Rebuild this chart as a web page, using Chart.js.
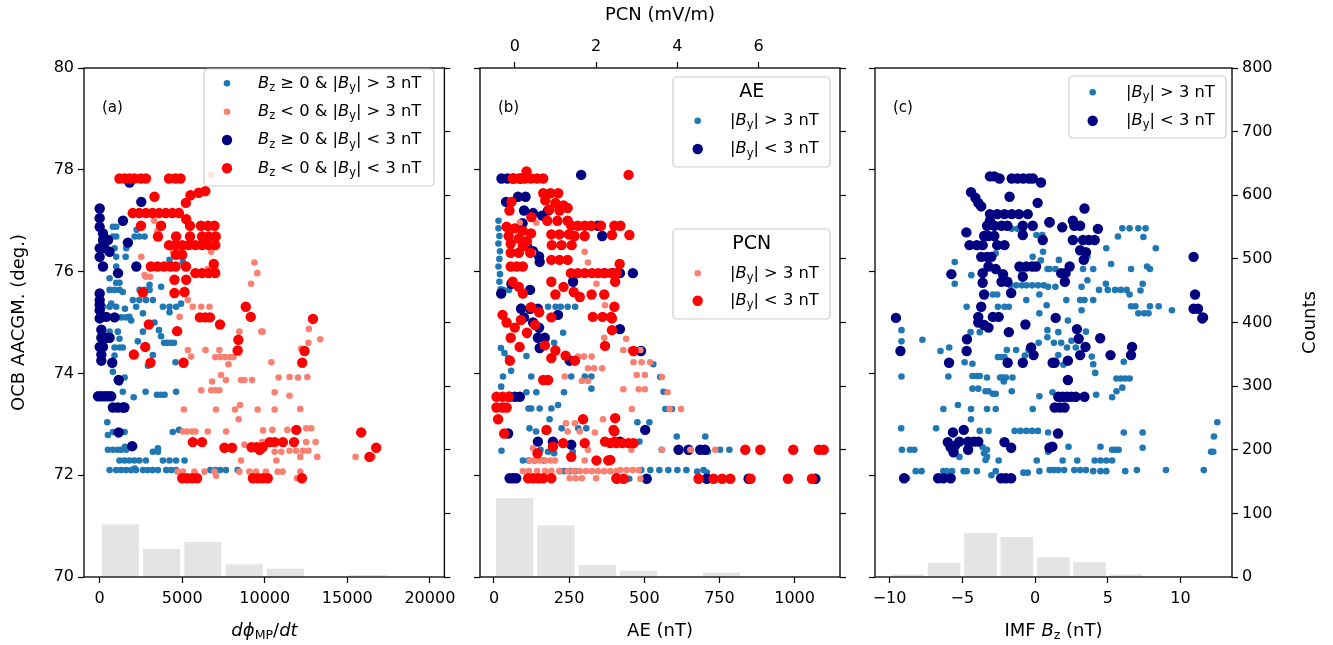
<!DOCTYPE html>
<html lang="en">
<head>
<meta charset="UTF-8">
<title>OCB latitude vs driving</title>
<script src="https://cdn.jsdelivr.net/npm/chart.js"></script>
<style>
  body { margin: 0; background: #fff; }
  #wrap { position: relative; width: 1333px; height: 645px; }
  #wrap canvas { position: absolute; top: 0; }
</style>
</head>
<body>
<div id="wrap">
  <canvas id="chartA" width="462" height="645" style="left:0px"></canvas>
  <canvas id="chartB" width="396" height="645" style="left:462px"></canvas>
  <canvas id="chartC" width="475" height="645" style="left:858px"></canvas>
</div>
<script>
// ---------- data ----------
const latTicks = [70, 72, 74, 76, 78, 80];
const countTicks = [0, 100, 200, 300, 400, 500, 600, 700, 800];
const aXTicks = [0, 5000, 10000, 15000, 20000];
const bXTicks = [0, 250, 500, 750, 1000];
const bPcnTicks = [0, 2, 4, 6];
const cXTicks = [-10, -5, 0, 5, 10];

// (a) dphi/dt vs OCB latitude
const aBzPosByHigh = [[800,76.88],[1000,76.88],[800,76.69],[1000,76.69],[2120,76.69],[2400,76.69],[2720,76.69],[2240,76.82],[1610,76.46],[900,76.46],[1570,76.29],[1000,76.29],[5040,76.39],[5040,76.19],[4230,76.23],[1000,76.1],[600,75.87],[1000,75.78],[1200,75.78],[600,75.64],[900,75.64],[1200,75.64],[1400,75.6],[3020,75.74],[2420,75.64],[2720,75.64],[3020,75.64],[3720,75.7],[2010,75.44],[2400,75.44],[2800,75.44],[3220,75.44],[700,75.37],[200,75.31],[600,75.31],[1000,75.31],[1530,75.27],[2210,75.31],[3830,75.31],[4230,75.31],[4630,75.31],[4230,75.2],[4930,75.37],[2620,75.18],[1800,75.11],[1000,75.1],[1300,75.1],[1600,75.1],[1910,75.04],[3320,75.0],[3590,74.85],[2620,74.82],[600,74.82],[1100,74.82],[1200,74.68],[2310,74.63],[3720,74.73],[3900,74.6],[4100,74.6],[4300,74.6],[4500,74.6],[900,74.51],[1200,74.51],[1400,74.51],[900,74.35],[3220,74.36],[2920,74.15],[4590,74.22],[800,74.03],[1510,73.92],[1200,73.82],[1400,73.64],[2060,73.53],[2780,73.64],[3470,73.58],[3700,73.58],[3930,73.58],[4630,73.64],[460,73.04],[500,72.79],[800,72.85],[1100,72.85],[1510,72.85],[4430,72.85],[4810,72.89],[500,72.5],[800,72.5],[1100,72.5],[1300,72.5],[1600,72.5],[1530,72.56],[3220,72.46],[3530,72.46],[3530,72.53],[1200,72.29],[1500,72.29],[1800,72.29],[2100,72.29],[2400,72.29],[2800,72.29],[3830,72.29],[4230,72.29],[4630,72.29],[5140,72.29],[600,72.1],[1000,72.1],[1300,72.1],[1600,72.1],[1900,72.1],[2200,72.1],[2620,72.1],[2900,72.1],[3200,72.1],[3530,72.1],[4030,72.1],[4330,72.1],[4630,72.1],[6700,72.1],[7000,72.1],[7300,72.1],[7650,72.1],[8360,72.1],[2120,72.13]];
const aBzNegByHigh = [[6740,77.9],[2520,76.29],[4430,76.39],[4740,76.39],[5040,76.39],[6750,76.39],[9370,76.18],[9550,75.97],[9170,75.76],[2720,75.93],[6550,76.05],[7030,76.05],[5340,75.44],[5640,75.31],[6150,75.31],[6650,75.31],[4840,75.11],[2800,75.9],[3050,75.9],[3300,77.0],[3500,76.8],[8460,74.82],[9870,74.82],[5340,74.46],[5540,74.33],[6410,74.46],[7250,74.46],[7000,74.32],[7300,74.32],[7600,74.32],[7900,74.32],[8100,74.32],[7800,74.18],[7350,73.97],[7650,73.87],[8560,73.87],[8770,73.87],[9230,73.87],[6810,73.84],[6150,73.67],[6750,73.67],[7000,73.67],[7250,73.67],[5100,73.29],[7050,73.29],[8200,73.29],[8500,73.38],[8420,73.1],[9570,73.29],[5040,72.86],[5300,72.86],[5600,72.86],[5800,72.86],[6550,72.86],[7660,72.86],[9900,72.88],[8770,72.6],[9900,72.65],[8560,72.29],[4730,72.07],[5040,72.07],[5740,72.07],[6350,72.07],[6950,72.07],[8460,72.07],[9070,72.07],[9470,72.07],[10070,72.07],[7050,71.99],[9790,74.82],[12670,74.87],[13360,74.67],[12640,74.6],[12210,74.49],[10400,74.22],[10840,73.92],[11500,73.93],[12010,73.92],[12580,73.93],[10600,73.63],[11500,73.56],[10600,73.29],[12150,73.3],[10460,72.89],[11370,72.89],[12510,72.92],[12820,72.92],[9830,72.65],[12510,72.65],[13080,72.65],[10600,72.46],[11000,72.46],[11500,72.48],[11900,72.48],[12310,72.48],[12640,72.48],[10700,72.29],[12150,72.36],[13180,72.36],[15500,72.36],[10780,72.07],[11080,72.07],[12150,72.07],[11950,71.94],[16530,72.36]];
const aBzPosByLow = [[0,77.24],[0,77.05],[0,76.88],[200,76.75],[200,76.62],[500,76.62],[0,76.46],[300,76.46],[600,76.39],[0,76.29],[200,76.1],[1110,75.97],[2520,77.37],[1410,77.0],[1710,76.57],[1810,77.75],[2220,76.1],[0,75.57],[0,75.44],[0,75.35],[0,75.24],[100,75.11],[400,75.11],[900,75.1],[0,75.08],[100,74.86],[100,74.7],[400,74.7],[600,74.7],[0,74.52],[200,74.52],[100,74.37],[100,74.25],[760,74.21],[1150,73.87],[-100,73.55],[100,73.55],[300,73.55],[500,73.55],[700,73.55],[800,73.33],[1100,73.33],[1400,73.33],[1500,73.33],[1150,72.84],[1970,72.57]];
const aBzNegByLow = [[1200,77.83],[1500,77.83],[1800,77.83],[2100,77.83],[2500,77.83],[2800,77.83],[4200,77.83],[4600,77.83],[4900,77.83],[5500,77.5],[6000,77.55],[6400,77.58],[3320,77.47],[5220,77.35],[2000,77.15],[2400,77.15],[2800,77.15],[3200,77.15],[3600,77.15],[4000,77.15],[4400,77.15],[4800,77.15],[5240,77.03],[2500,76.9],[3720,76.9],[5470,76.9],[6130,76.9],[6560,76.9],[6950,76.9],[3530,76.69],[4630,76.69],[5470,76.69],[6200,76.69],[6600,76.69],[7030,76.69],[4200,76.52],[4600,76.52],[5000,76.52],[5400,76.52],[5800,76.52],[6200,76.52],[6600,76.52],[7000,76.52],[4620,76.33],[5000,76.33],[3100,76.1],[3500,76.1],[3900,76.1],[4300,76.1],[4600,76.1],[5230,76.1],[5800,75.97],[6200,75.97],[6600,75.97],[7000,75.97],[6910,76.15],[4530,75.84],[5240,75.84],[2620,75.59],[4530,75.58],[5140,75.6],[8850,75.31],[6070,75.1],[6400,75.1],[6680,75.1],[9150,75.11],[2980,74.96],[4690,74.83],[7290,74.96],[2760,74.52],[2070,74.37],[3080,74.21],[5080,74.21],[8400,74.66],[8360,74.45],[5640,72.65],[6200,72.65],[7560,72.54],[8020,72.54],[9200,72.55],[9500,72.55],[9870,72.55],[9690,72.5],[10300,72.65],[10600,72.65],[11100,72.65],[11770,72.65],[11910,72.89],[5000,71.94],[5300,71.94],[5600,71.94],[5900,71.94],[9280,71.94],[9600,71.94],[9900,71.94],[10180,71.94],[12250,71.94],[12920,75.07],[12410,74.44],[12270,74.21],[15840,72.84],[16750,72.54],[16340,72.36]];
const aHistCenters = [1250, 3750, 6250, 8750, 11250, 16250];
const aHistCounts = [83, 44, 55, 20, 13, 3];

// (b) AE and PCN vs OCB latitude
const bAeByHigh = [[15,77.0],[15,76.85],[18,76.7],[15,76.55],[20,76.4],[18,76.25],[15,76.1],[20,75.95],[18,75.8],[22,75.65],[30,75.64],[50,75.64],[245,75.31],[270,75.31],[180,75.31],[205,75.31],[222,75.31],[90,75.31],[23,74.5],[35,74.4],[47,74.3],[30,73.94],[24,73.74],[57,74.05],[108,74.34],[124,73.94],[108,73.63],[141,73.63],[115,73.31],[124,73.31],[152,73.31],[191,73.31],[213,73.38],[233,73.63],[257,73.94],[302,73.94],[324,73.94],[324,73.7],[185,73.1],[118,72.92],[140,72.86],[170,72.86],[25,72.48],[96,72.29],[115,72.29],[135,72.29],[165,72.29],[155,72.5],[180,72.46],[200,72.43],[225,72.92],[280,72.92],[307,72.92],[262,72.46],[219,72.08],[235,72.08],[252,72.08],[269,72.08],[110,74.75],[150,74.85],[200,74.6],[230,74.8],[530,74.18],[553,73.93],[564,73.64],[570,73.3],[592,73.3],[477,73.04],[517,73.04],[484,72.66],[608,72.76],[703,72.76],[558,72.5],[712,72.46],[752,72.5],[783,72.5],[490,72.1],[520,72.1],[550,72.1],[580,72.1],[610,72.1],[640,72.1],[676,72.07],[697,72.1],[708,72.05],[450,71.93]];
const bAeByLow = [[25,77.83],[45,77.83],[65,77.83],[90,77.83],[290,77.9],[80,77.47],[105,77.47],[40,77.37],[100,77.2],[130,77.15],[160,77.1],[180,77.2],[95,76.95],[346,76.9],[360,76.7],[110,76.5],[130,76.4],[150,76.3],[152,76.19],[58,75.76],[24,75.57],[263,75.8],[368,75.97],[396,75.97],[213,75.15],[120,75.64],[90,75.27],[120,75.27],[146,75.27],[419,75.97],[462,75.97],[100,75.1],[130,75.0],[150,74.9],[146,74.7],[169,74.7],[152,74.5],[252,74.25],[52,73.54],[70,73.54],[86,73.54],[47,72.82],[146,72.66],[196,72.66],[257,72.6],[52,71.94],[63,71.94],[74,71.94],[419,74.87],[489,74.44],[503,72.89],[419,72.66],[614,72.5],[647,72.5],[686,72.5],[702,72.5],[508,71.93],[708,71.93],[847,71.93],[1069,71.93]];
const bPcnByHigh = [[0.12,76.96],[0.53,76.96],[0.45,76.37],[1.72,76.39],[1.8,76.18],[2.01,75.76],[2.22,75.34],[1.56,74.33],[1.7,74.33],[1.89,74.33],[1.8,74.1],[1.95,74.1],[2.15,74.1],[1.23,73.94],[1.65,73.85],[1.8,73.85],[2.2,74.7],[1.26,73.02],[1.48,73.02],[1.97,72.84],[2.17,73.1],[1.3,72.86],[1.6,72.86],[0.45,72.53],[0.37,72.29],[0.5,72.29],[0.62,72.29],[0.75,72.29],[0.88,72.29],[0.99,72.29],[1.72,72.29],[1.8,72.5],[0.2,72.08],[0.35,72.08],[0.55,72.08],[0.75,72.08],[0.9,72.08],[1.1,72.08],[1.3,72.08],[1.45,72.08],[1.6,72.08],[1.75,72.08],[1.9,72.08],[2.05,72.08],[2.2,72.08],[2.35,72.08],[2.5,72.08],[2.6,72.1],[2.75,72.1],[2.9,72.1],[3.05,72.1],[1.35,71.94],[1.5,71.94],[1.65,71.94],[2.0,71.94],[2.74,74.68],[2.67,74.46],[2.85,74.46],[3.09,74.46],[2.92,74.22],[3.12,74.22],[3.33,74.22],[3.0,73.97],[3.2,73.97],[3.62,73.93],[2.67,73.69],[3.05,73.69],[3.2,73.69],[3.76,73.63],[2.88,73.3],[3.81,73.3],[4.09,73.3],[4.32,72.5],[4.93,72.5],[3.62,72.5],[3.09,71.93],[2.87,72.5]];
const bPcnByLow = [[-0.05,77.83],[0.1,77.83],[0.25,77.83],[0.4,77.83],[0.55,77.83],[0.7,77.83],[0.29,77.97],[0.7,77.54],[0.88,77.54],[1.07,77.54],[0.75,77.4],[1.0,77.35],[1.2,77.3],[0.85,77.22],[1.1,77.2],[1.3,77.25],[-0.08,77.37],[-0.13,77.2],[0.41,77.07],[0.8,77.0],[1.05,77.0],[1.3,77.0],[-0.2,76.88],[0.0,76.85],[0.2,76.8],[0.4,76.75],[-0.15,76.7],[0.1,76.65],[0.3,76.6],[-0.1,76.55],[0.2,76.5],[1.39,76.9],[1.55,76.9],[1.72,76.9],[1.88,76.9],[2.12,76.9],[2.45,76.9],[2.6,76.9],[2.82,76.72],[2.39,76.72],[1.47,76.7],[1.72,76.7],[0.9,76.73],[1.1,76.73],[1.33,76.73],[-0.1,76.37],[0.1,76.37],[0.38,76.37],[0.91,76.52],[1.15,76.52],[1.4,76.52],[0.9,76.23],[1.1,76.23],[1.3,76.23],[-0.1,76.1],[0.05,76.1],[0.2,76.1],[1.38,75.97],[1.55,75.97],[1.72,75.97],[1.9,75.97],[2.05,75.97],[2.2,75.97],[2.37,75.97],[2.5,75.97],[2.58,76.15],[0.9,75.8],[1.2,75.7],[1.45,75.6],[1.6,75.5],[1.0,75.55],[-0.05,75.8],[0.1,75.7],[0.2,75.57],[1.89,75.55],[2.2,75.55],[1.92,75.11],[2.16,75.11],[2.37,75.11],[-0.3,75.15],[0.4,75.3],[0.6,75.2],[0.9,75.1],[2.8,77.9],[2.45,75.31],[2.47,75.8],[-0.2,75.0],[0.0,74.9],[0.3,74.8],[-0.1,74.7],[0.15,75.05],[0.5,74.95],[0.74,74.55],[1.0,74.45],[1.25,74.35],[1.48,74.25],[0.9,74.3],[-0.12,74.25],[0.12,74.52],[2.22,74.54],[0.7,73.87],[0.82,73.87],[-0.45,73.54],[-0.3,73.54],[-0.15,73.54],[-0.45,73.33],[-0.3,73.33],[-0.2,73.33],[-0.41,73.1],[-0.26,72.82],[0.78,72.89],[1.68,73.1],[1.19,72.63],[0.94,72.56],[0.56,72.43],[1.39,72.36],[1.72,72.63],[2.01,72.29],[2.3,72.29],[2.22,72.66],[2.46,72.66],[2.45,72.86],[0.33,71.94],[0.45,71.94],[0.58,71.94],[0.7,71.94],[0.9,71.94],[2.5,71.94],[2.39,75.08],[2.39,74.85],[2.92,74.44],[2.47,73.12],[2.43,72.89],[2.35,72.63],[2.5,72.63],[2.65,72.63],[2.8,72.63],[2.92,72.63],[2.35,72.3],[2.51,71.93],[2.68,71.93],[5.67,72.5],[6.04,72.5],[6.85,72.5],[7.48,72.5],[7.6,72.5],[4.52,71.93],[4.89,71.93],[5.1,71.93],[5.3,71.93],[5.8,71.93],[6.72,71.93],[7.31,71.93]];
const bHistCenters = [68.75, 206.25, 343.75, 481.25, 756.25];
const bHistCounts = [124, 81, 19, 10, 7];

// (c) IMF Bz vs OCB latitude
const cByHigh = [[-5.52,76.19],[-5.52,75.76],[-4.38,75.93],[-4.7,75.31],[-2.55,75.31],[-2.1,75.31],[-1.8,75.31],[-2.9,75.55],[-2.6,75.55],[-2.7,76.36],[-1.6,76.84],[-1.2,76.84],[-0.8,76.84],[0.1,76.72],[0.5,76.72],[0.55,76.39],[-1.7,75.73],[-1.3,75.73],[-0.9,75.73],[-0.6,75.73],[-0.2,75.73],[0.2,75.73],[0.6,75.73],[-0.9,75.97],[-0.16,76.29],[0.4,76.22],[0.86,76.05],[-0.6,75.44],[0.3,75.55],[0.8,75.34],[0.3,75.18],[6.0,76.85],[6.5,76.85],[7.1,76.85],[7.6,76.85],[5.7,76.69],[7.45,76.68],[8.3,76.46],[4.9,76.46],[3.6,76.29],[5.23,76.15],[6.6,76.05],[7.7,76.1],[7.9,76.05],[3.3,76.05],[4.0,76.05],[1.64,76.23],[1.0,76.05],[1.4,76.05],[4.87,75.76],[7.4,75.76],[3.6,75.83],[4.4,75.64],[5.0,75.64],[5.5,75.64],[5.9,75.64],[6.3,75.64],[6.5,75.55],[7.25,75.63],[3.2,75.7],[0.9,75.7],[1.4,75.7],[2.15,75.44],[3.1,75.44],[3.4,75.44],[4.0,75.44],[6.6,75.32],[6.9,75.32],[7.9,75.32],[8.5,75.32],[9.41,75.24],[7.1,75.18],[7.5,75.18],[7.8,75.18],[3.2,75.24],[-9.18,74.85],[-9.18,74.63],[-7.74,74.66],[-6.5,74.44],[-5.9,74.51],[-9.18,73.94],[-5.96,73.94],[-4.84,74.22],[-4.3,74.19],[-4.43,74.81],[-3.8,74.81],[-4.3,73.95],[-4.0,73.95],[-3.8,73.95],[-3.3,73.92],[-4.3,73.7],[-3.9,73.7],[-3.4,73.65],[-3.2,73.65],[-2.9,73.6],[-2.7,73.6],[-2.4,73.92],[-2.2,73.92],[-2.0,73.92],[-2.15,73.84],[-1.55,73.92],[-1.6,73.65],[-2.55,74.32],[-2.3,74.32],[-2.1,74.32],[-1.94,74.46],[-1.3,74.46],[-0.7,74.35],[-0.45,74.46],[0.25,74.6],[0.85,74.85],[0.85,74.71],[-6.3,73.3],[-5.3,73.38],[-4.4,73.3],[-3.3,73.3],[-2.7,73.3],[-4.4,73.1],[-0.16,73.3],[0.3,73.55],[-9.2,72.92],[-6.8,72.92],[-3.8,72.87],[-3.2,72.87],[-1.4,72.87],[-1.0,72.87],[-0.6,72.87],[-0.2,72.87],[0.2,72.87],[0.9,72.84],[-9.15,72.5],[-8.6,72.5],[-8.3,72.5],[-3.6,72.55],[-3.3,72.5],[-3.5,72.43],[-3.3,72.36],[-3.4,72.3],[-5.2,72.36],[-2.5,72.29],[0.12,72.29],[0.9,72.46],[-8.2,72.08],[-7.8,72.08],[-6.3,72.08],[-6.1,72.08],[-5.7,72.08],[-4.9,72.08],[-4.7,72.08],[-4.0,72.08],[-3.0,72.0],[-2.7,72.08],[-0.8,72.05],[-0.5,72.05],[0.3,72.08],[1.0,72.1],[-8.8,71.94],[2.26,75.04],[1.6,74.81],[1.3,74.6],[1.8,74.6],[2.5,74.64],[2.8,74.51],[2.2,74.51],[3.5,74.82],[1.6,74.36],[1.95,74.17],[3.9,74.33],[4.0,74.18],[4.14,74.01],[6.1,74.23],[5.6,73.9],[5.9,73.9],[6.2,73.9],[6.5,73.9],[6.0,73.72],[5.6,73.65],[5.3,73.53],[4.2,73.58],[1.2,73.63],[12.53,73.04],[12.3,72.76],[12.1,72.46],[12.25,72.46],[6.1,72.84],[7.4,72.84],[7.4,72.54],[4.5,72.56],[2.3,72.56],[5.3,72.5],[5.5,72.5],[5.75,72.5],[1.9,72.29],[2.9,72.29],[4.1,72.29],[4.5,72.29],[4.9,72.29],[5.3,72.29],[1.3,72.1],[1.6,72.1],[2.0,72.1],[2.7,72.1],[3.1,72.1],[3.5,72.1],[4.0,72.08],[4.5,72.08],[4.9,72.08],[6.2,72.08],[7.0,72.1],[9.0,72.1],[11.6,72.1]];
const cByLow = [[-3.1,77.87],[-2.8,77.87],[-2.44,77.83],[-1.6,77.83],[-1.2,77.83],[-0.8,77.83],[-0.4,77.83],[-0.15,77.83],[0.41,77.75],[-4.4,77.56],[-4.1,77.45],[-3.9,77.35],[-3.7,77.28],[-1.75,77.47],[0.18,77.35],[-3.1,77.13],[-2.6,77.13],[-2.1,77.13],[-1.6,77.13],[-1.1,77.13],[-0.5,77.13],[-3.1,77.0],[-3.3,76.9],[-2.8,76.9],[-2.3,76.9],[-1.9,76.9],[-0.84,76.9],[-0.16,76.9],[0.99,76.97],[0.53,76.62],[-4.72,76.77],[-3.5,76.7],[-3.2,76.7],[-2.8,76.7],[-0.84,76.72],[-4.5,76.52],[-4.0,76.52],[-3.6,76.52],[-2.6,76.52],[-2.1,76.52],[-3.7,76.29],[-3.3,76.29],[-3.0,76.29],[-3.2,76.1],[-2.7,76.05],[-2.2,75.95],[-1.07,76.1],[-0.6,76.1],[-0.2,76.1],[0.07,76.1],[-5.75,75.95],[-3.6,75.97],[-0.84,75.9],[-2.3,75.8],[-1.9,75.8],[-3.6,75.78],[-3.5,75.55],[-1.64,75.58],[-3.7,75.31],[-9.56,75.09],[-3.9,75.11],[-2.9,75.11],[-2.5,75.11],[3.4,77.24],[2.6,77.0],[2.7,76.9],[3.1,76.9],[1.87,76.87],[4.32,76.84],[2.6,76.62],[3.3,76.62],[3.7,76.62],[4.1,76.62],[3.1,76.42],[3.5,76.38],[3.35,76.23],[2.38,76.1],[1.8,75.97],[2.1,75.97],[2.05,75.8],[1.0,76.97],[10.9,76.29],[11.0,75.55],[10.9,75.27],[11.2,75.27],[11.55,75.1],[-9.25,74.44],[-5.91,74.21],[-4.68,74.67],[-4.7,74.44],[-3.9,75.0],[-3.5,74.95],[-3.2,74.9],[-1.8,74.81],[-0.66,74.96],[-0.27,74.51],[-0.1,74.36],[-1.88,74.21],[-0.84,74.21],[1.21,74.21],[-5.64,72.84],[-4.9,72.89],[-6.0,72.65],[-5.8,72.55],[-5.6,72.45],[-5.5,72.58],[-5.2,72.66],[-4.6,72.66],[-4.2,72.66],[-3.9,72.66],[-4.6,72.5],[-2.1,72.65],[-1.64,72.54],[0.99,72.54],[-9.0,71.94],[-6.66,71.94],[-6.3,71.94],[-5.8,71.94],[-2.33,71.94],[-2.0,71.94],[-1.64,71.94],[1.42,75.09],[2.88,74.87],[3.0,74.68],[3.47,74.52],[4.48,74.69],[3.1,74.36],[2.26,74.25],[1.35,74.21],[5.19,74.36],[6.67,74.52],[6.6,74.36],[2.26,73.87],[1.6,73.54],[1.9,73.54],[2.2,73.54],[2.5,73.54],[2.8,73.54],[3.4,73.54],[1.35,73.33],[1.7,73.33],[2.03,73.33],[1.58,72.82],[1.19,72.56],[11.5,75.08]];
const cHistCenters = [-8.75, -6.25, -3.75, -1.25, 1.25, 3.75, 6.25];
const cHistCounts = [4, 22, 69, 63, 31, 23, 4];

// ---------- styling ----------
const FONT = 'DejaVu Sans';
const TICK_SIZE = 16;
const LABEL_SIZE = 18;
const LEG_SIZE = 16.3;
const LEG_TITLE_SIZE = 19;
const C_BLUE = '#1f77b4', C_NAVY = '#000080', C_SALMON = '#fa8072', C_RED = '#ff0000', C_HIST = '#e4e4e4';
const R_SMALL = 3.3, R_BIG = 5.2;

const pts = (arr) => arr.map(p => ({x: p[0], y: p[1]}));
const bars = (c, n) => c.map((v, i) => ({x: v, y: n[i]}));

function axis(position, min, max, tickValues, showLabels, size) {
  const vertical = position === 'left' || position === 'right';
  return {
    type: 'linear', position: position, min: min, max: max, offset: false,
    afterBuildTicks: (s) => { s.ticks = tickValues.map(v => ({value: v})); },
    afterFit: (s) => { if (vertical) s.width = size; else s.height = size; },
    ticks: {
      autoSkip: false, maxRotation: 0, color: '#000', padding: vertical ? 4 : 6,
      font: {family: FONT, size: TICK_SIZE},
      callback: (v) => showLabels ? String(v).replace('-', '\u2212') : ''
    },
    grid: {offset: false, drawOnChartArea: false, drawTicks: true, tickLength: 6, tickColor: '#000', tickWidth: 1.2},
    border: {display: false},
    title: {display: false}
  };
}

function scatterSet(data, color, r, order, xId) {
  return {
    type: 'scatter', data: pts(data), xAxisID: xId || 'x', yAxisID: 'y',
    backgroundColor: color, pointBackgroundColor: color, pointRadius: r,
    pointBorderWidth: 0, pointHoverRadius: r, order: order
  };
}

function histSet(c, n) {
  return {
    type: 'bar', data: bars(c, n), xAxisID: 'x', yAxisID: 'y2', grouped: false,
    backgroundColor: C_HIST, barPercentage: 0.9, categoryPercentage: 1.0, order: 10
  };
}

// text with italic / subscript pieces: [text, 'i'|'s'|'']
function drawRich(ctx, parts, x, y, size, align) {
  const fontOf = (st) => (st === 'i' ? 'italic ' : '') + (st === 's' ? size * 0.7 : size) + 'px "' + FONT + '"';
  let w = 0;
  parts.forEach(p => { ctx.font = fontOf(p[1]); w += ctx.measureText(p[0]).width; });
  let cx = align === 'center' ? x - w / 2 : x;
  ctx.textAlign = 'left';
  ctx.textBaseline = 'middle';
  ctx.fillStyle = '#000';
  parts.forEach(p => {
    ctx.font = fontOf(p[1]);
    ctx.fillText(p[0], cx, p[1] === 's' ? y + size * 0.28 : y);
    cx += ctx.measureText(p[0]).width;
  });
}

function drawBox(ctx, x, y, w, h) {
  ctx.save();
  ctx.beginPath();
  ctx.roundRect(x, y, w, h, 4);
  ctx.fillStyle = 'rgba(255,255,255,0.8)';
  ctx.fill();
  ctx.strokeStyle = '#cccccc';
  ctx.lineWidth = 1.2;
  ctx.stroke();
  ctx.restore();
}

function dot(ctx, x, y, r, color) {
  ctx.beginPath();
  ctx.arc(x, y, r, 0, Math.PI * 2);
  ctx.fillStyle = color;
  ctx.fill();
}

function drawFrame(chart, letter) {
  const {ctx, chartArea: a} = chart;
  ctx.save();
  ctx.strokeStyle = '#000';
  ctx.lineWidth = 1.3;
  ctx.strokeRect(a.left, a.top, a.right - a.left, a.bottom - a.top);
  ctx.font = '15px "' + FONT + '"';
  ctx.fillStyle = '#000';
  ctx.textBaseline = 'middle';
  ctx.textAlign = 'left';
  ctx.fillText(letter, a.left + 18, 108);
  ctx.restore();
}

const Bz = [['B', 'i'], ['z', 's']];
const By = [['B', 'i'], ['y', 's']];

// ---------- panel (a) ----------
new Chart(document.getElementById('chartA'), {
  type: 'scatter',
  data: {
    datasets: [
      histSet(aHistCenters, aHistCounts),
      scatterSet(aBzPosByHigh, C_BLUE, R_SMALL, 3),
      scatterSet(aBzNegByHigh, C_SALMON, R_SMALL, 2),
      scatterSet(aBzPosByLow, C_NAVY, R_BIG, 1),
      scatterSet(aBzNegByLow, C_RED, R_BIG, 0)
    ]
  },
  options: {
    responsive: false, animation: false, events: [],
    layout: {padding: {top: 68}},
    plugins: {legend: {display: false}, tooltip: {enabled: false}},
    scales: {
      x: axis('bottom', -950, 20880, aXTicks, true, 68),
      y: Object.assign(axis('left', 70, 80, latTicks, true, 84), {
        title: {display: true, text: 'OCB AACGM. (deg.)', color: '#000', font: {family: FONT, size: LABEL_SIZE}, padding: {top: 9, bottom: 0}}
      }),
      y2: axis('right', 0, 800, countTicks, false, 17)
    }
  },
  plugins: [{
    id: 'extrasA',
    afterDraw(chart) {
      const ctx = chart.ctx;
      drawFrame(chart, '(a)');
      drawRich(ctx, [['d\u03d5', 'i'], ['MP', 's'], ['/', ''], ['dt', 'i']], 264.5, 631, LABEL_SIZE, 'center');
      drawBox(ctx, 204, 69, 230, 117);
      const rows = [
        [C_BLUE, R_SMALL, Bz.concat([[' \u2265 0 & |', '']], By, [['| > 3 nT', '']])],
        [C_SALMON, R_SMALL, Bz.concat([[' < 0 & |', '']], By, [['| > 3 nT', '']])],
        [C_NAVY, R_BIG, Bz.concat([[' \u2265 0 & |', '']], By, [['| < 3 nT', '']])],
        [C_RED, R_BIG, Bz.concat([[' < 0 & |', '']], By, [['| < 3 nT', '']])]
      ];
      const ys = [83.3, 111.7, 140, 168.3];
      rows.forEach((r, i) => {
        dot(ctx, 227, ys[i], r[1], r[0]);
        drawRich(ctx, r[2], 258, ys[i], LEG_SIZE, 'left');
      });
    }
  }]
});

// ---------- panel (b) ----------
new Chart(document.getElementById('chartB'), {
  type: 'scatter',
  data: {
    datasets: [
      histSet(bHistCenters, bHistCounts),
      scatterSet(bAeByHigh, C_BLUE, R_SMALL, 3),
      scatterSet(bAeByLow, C_NAVY, R_BIG, 2),
      scatterSet(bPcnByHigh, C_SALMON, R_SMALL, 1, 'xp'),
      scatterSet(bPcnByLow, C_RED, R_BIG, 0, 'xp')
    ]
  },
  options: {
    responsive: false, animation: false, events: [],
    plugins: {legend: {display: false}, tooltip: {enabled: false}},
    scales: {
      x: Object.assign(axis('bottom', -46.5, 1151, bXTicks, true, 68), {
        title: {display: true, text: 'AE (nT)', color: '#000', font: {family: FONT, size: LABEL_SIZE}, padding: {top: 0, bottom: 3}}
      }),
      xp: Object.assign(axis('top', -0.855, 8.0, bPcnTicks, true, 68), {
        title: {display: true, text: 'PCN (mV/m)', color: '#000', font: {family: FONT, size: LABEL_SIZE}, padding: {top: 5, bottom: 0}}
      }),
      y: axis('left', 70, 80, latTicks, false, 18),
      y2: axis('right', 0, 800, countTicks, false, 18)
    }
  },
  plugins: [{
    id: 'extrasB',
    afterDraw(chart) {
      const ctx = chart.ctx;
      drawFrame(chart, '(b)');
      const blocks = [
        {title: 'AE', top: 77, ty: 92.3, ys: [120.7, 149], cols: [C_BLUE, C_NAVY]},
        {title: 'PCN', top: 229, ty: 244, ys: [273.3, 300.7], cols: [C_SALMON, C_RED]}
      ];
      blocks.forEach(b => {
        drawBox(ctx, 211, b.top, 157, 90);
        drawRich(ctx, [[b.title, '']], 289.7, b.ty, LEG_TITLE_SIZE, 'center');
        dot(ctx, 235.7, b.ys[0], R_SMALL, b.cols[0]);
        drawRich(ctx, [['|', '']].concat(By, [['| > 3 nT', '']]), 268, b.ys[0], LEG_SIZE, 'left');
        dot(ctx, 235.7, b.ys[1], R_BIG, b.cols[1]);
        drawRich(ctx, [['|', '']].concat(By, [['| < 3 nT', '']]), 268, b.ys[1], LEG_SIZE, 'left');
      });
    }
  }]
});

// ---------- panel (c) ----------
new Chart(document.getElementById('chartC'), {
  type: 'scatter',
  data: {
    datasets: [
      histSet(cHistCenters, cHistCounts),
      scatterSet(cByHigh, C_BLUE, R_SMALL, 1),
      scatterSet(cByLow, C_NAVY, R_BIG, 0)
    ]
  },
  options: {
    responsive: false, animation: false, events: [],
    layout: {padding: {top: 68}},
    plugins: {legend: {display: false}, tooltip: {enabled: false}},
    scales: {
      x: axis('bottom', -11, 13.54, cXTicks, true, 68),
      y: axis('left', 70, 80, latTicks, false, 17),
      y2: axis('right', 0, 800, countTicks, true, 101)
    }
  },
  plugins: [{
    id: 'extrasC',
    afterDraw(chart) {
      const ctx = chart.ctx;
      const a = chart.chartArea;
      drawFrame(chart, '(c)');
      drawRich(ctx, [['IMF ', ''], ['B', 'i'], ['z', 's'], [' (nT)', '']], (a.left + a.right) / 2, 631, LABEL_SIZE, 'center');
      ctx.save();
      ctx.translate(452, (a.top + a.bottom) / 2);
      ctx.rotate(-Math.PI / 2);
      drawRich(ctx, [['Counts', '']], 0, 0, LABEL_SIZE, 'center');
      ctx.restore();
      drawBox(ctx, 211, 76, 157, 62);
      dot(ctx, 234.7, 92.3, R_SMALL, C_BLUE);
      drawRich(ctx, [['|', '']].concat(By, [['| > 3 nT', '']]), 268, 92.3, LEG_SIZE, 'left');
      dot(ctx, 234.7, 120.7, R_BIG, C_NAVY);
      drawRich(ctx, [['|', '']].concat(By, [['| < 3 nT', '']]), 268, 120.7, LEG_SIZE, 'left');
    }
  }]
});
</script>
</body>
</html>
